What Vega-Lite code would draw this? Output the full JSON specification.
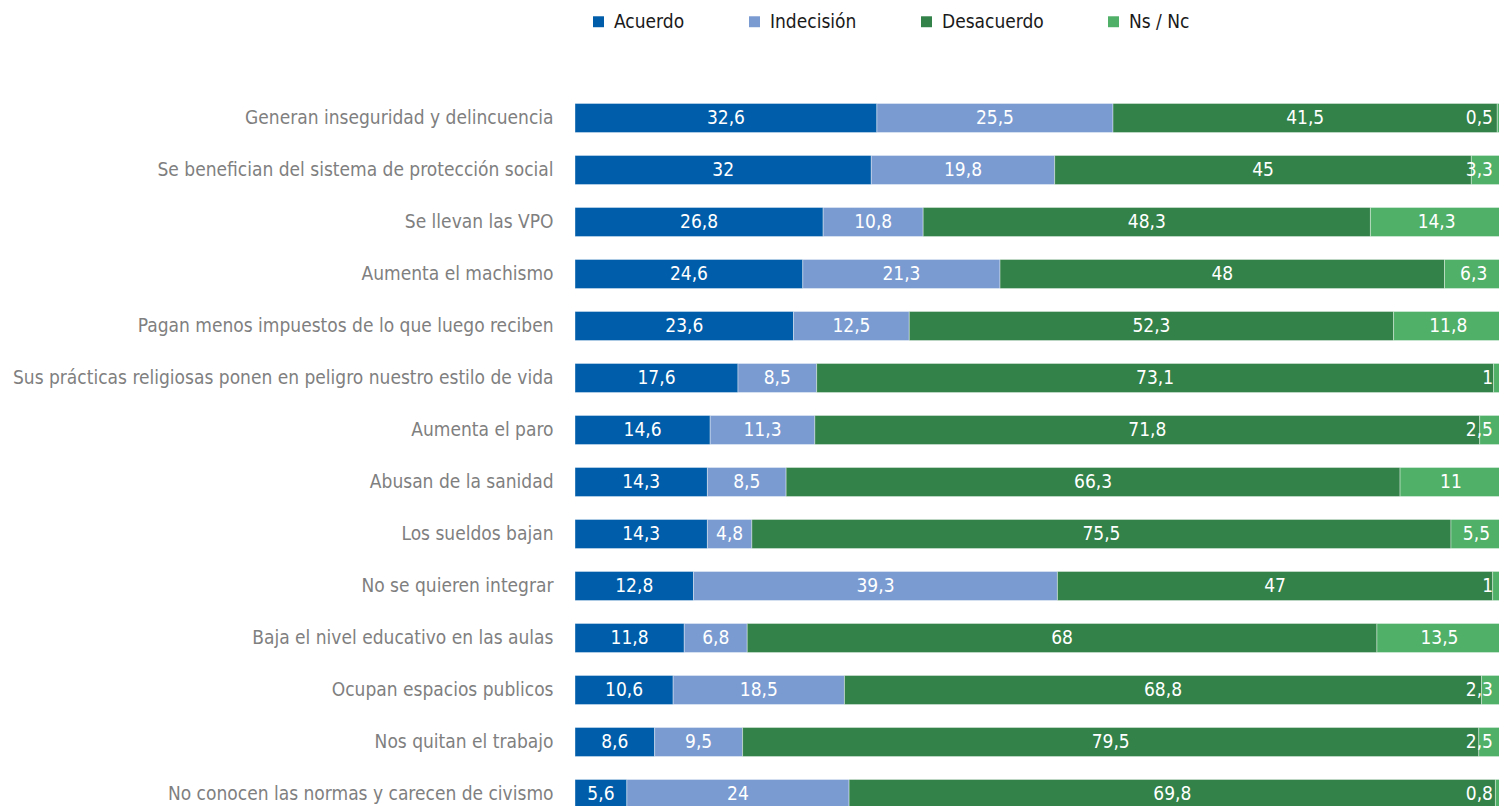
{
  "$schema": "https://vega.github.io/schema/vega-lite/v6.json",
  "width": 926,
  "height": 728,
  "autosize": {"type": "none"},
  "padding": {"left": 575, "top": 92, "right": 0, "bottom": 0},
  "background": "white",
  "config": {
    "font": "DejaVu Sans Condensed",
    "view": {"stroke": null},
    "locale": {"number": {"decimal": ",", "thousands": ".", "grouping": [3], "currency": ["", " €"]}}
  },
  "data": {
    "values": [
      {"item": "Generan inseguridad y delincuencia", "Acuerdo": 32.6, "Indecisión": 25.5, "Desacuerdo": 41.5, "Ns / Nc": 0.5},
      {"item": "Se benefician del sistema de protección social", "Acuerdo": 32, "Indecisión": 19.8, "Desacuerdo": 45, "Ns / Nc": 3.3},
      {"item": "Se llevan las VPO", "Acuerdo": 26.8, "Indecisión": 10.8, "Desacuerdo": 48.3, "Ns / Nc": 14.3},
      {"item": "Aumenta el machismo", "Acuerdo": 24.6, "Indecisión": 21.3, "Desacuerdo": 48, "Ns / Nc": 6.3},
      {"item": "Pagan menos impuestos de lo que luego reciben", "Acuerdo": 23.6, "Indecisión": 12.5, "Desacuerdo": 52.3, "Ns / Nc": 11.8},
      {"item": "Sus prácticas religiosas ponen en peligro nuestro estilo de vida", "Acuerdo": 17.6, "Indecisión": 8.5, "Desacuerdo": 73.1, "Ns / Nc": 1},
      {"item": "Aumenta el paro", "Acuerdo": 14.6, "Indecisión": 11.3, "Desacuerdo": 71.8, "Ns / Nc": 2.5},
      {"item": "Abusan de la sanidad", "Acuerdo": 14.3, "Indecisión": 8.5, "Desacuerdo": 66.3, "Ns / Nc": 11},
      {"item": "Los sueldos bajan", "Acuerdo": 14.3, "Indecisión": 4.8, "Desacuerdo": 75.5, "Ns / Nc": 5.5},
      {"item": "No se quieren integrar", "Acuerdo": 12.8, "Indecisión": 39.3, "Desacuerdo": 47, "Ns / Nc": 1},
      {"item": "Baja el nivel educativo en las aulas", "Acuerdo": 11.8, "Indecisión": 6.8, "Desacuerdo": 68, "Ns / Nc": 13.5},
      {"item": "Ocupan espacios publicos", "Acuerdo": 10.6, "Indecisión": 18.5, "Desacuerdo": 68.8, "Ns / Nc": 2.3},
      {"item": "Nos quitan el trabajo", "Acuerdo": 8.6, "Indecisión": 9.5, "Desacuerdo": 79.5, "Ns / Nc": 2.5},
      {"item": "No conocen las normas y carecen de civismo", "Acuerdo": 5.6, "Indecisión": 24, "Desacuerdo": 69.8, "Ns / Nc": 0.8}
    ]
  },
  "transform": [
    {"fold": ["Acuerdo", "Indecisión", "Desacuerdo", "Ns / Nc"], "as": ["cat", "value"]},
    {"calculate": "indexof(['Acuerdo', 'Indecisión', 'Desacuerdo', 'Ns / Nc'], datum.cat)", "as": "ord"},
    {"stack": "value", "groupby": ["item"], "sort": [{"field": "ord", "order": "ascending"}], "as": ["v0", "v1"]},
    {"calculate": "(datum.v0 + datum.v1) / 2", "as": "mid"},
    {"calculate": "min(datum.v1, 100)", "as": "endpos"}
  ],
  "encoding": {
    "y": {
      "field": "item",
      "type": "nominal",
      "sort": null,
      "scale": {"paddingInner": 0.44, "paddingOuter": 0.22},
      "axis": {"title": null, "ticks": false, "domain": false, "labelFontSize": 19, "labelColor": "#7f7f7f", "labelPadding": 22, "labelLimit": 0}
    }
  },
  "layer": [
    {
      "mark": {"type": "bar", "stroke": "white", "strokeWidth": 0.75, "strokeOpacity": 0.5},
      "encoding": {
        "x": {"field": "v0", "type": "quantitative", "scale": {"domain": [0, 100], "nice": false, "clamp": false}, "axis": null},
        "x2": {"field": "v1"},
        "color": {
          "field": "cat",
          "type": "nominal",
          "scale": {"domain": ["Acuerdo", "Indecisión", "Desacuerdo", "Ns / Nc"], "range": ["#005da9", "#7a9bd1", "#338249", "#50b068"]},
          "legend": {
            "title": null,
            "orient": "none",
            "legendX": 14,
            "legendY": -80,
            "direction": "horizontal",
            "symbolType": "square",
            "symbolSize": 120,
            "symbolStrokeWidth": 0,
            "labelFontSize": 19,
            "labelColor": "#1a1a1a",
            "columnPadding": 60,
            "labelOffset": 6
          }
        }
      }
    },
    {
      "transform": [{"filter": "!(datum.cat == 'Ns / Nc' && datum.value < 5)"}],
      "mark": {"type": "text", "color": "white", "fontSize": 19, "align": "center", "baseline": "middle"},
      "encoding": {
        "x": {"field": "mid", "type": "quantitative"},
        "text": {"field": "value", "type": "quantitative", "format": ".3~g"}
      }
    },
    {
      "transform": [{"filter": "datum.cat == 'Ns / Nc' && datum.value < 5"}],
      "mark": {"type": "text", "color": "white", "fontSize": 19, "align": "right", "baseline": "middle", "dx": -8},
      "encoding": {
        "x": {"field": "endpos", "type": "quantitative"},
        "text": {"field": "value", "type": "quantitative", "format": ".3~g"}
      }
    }
  ]
}
